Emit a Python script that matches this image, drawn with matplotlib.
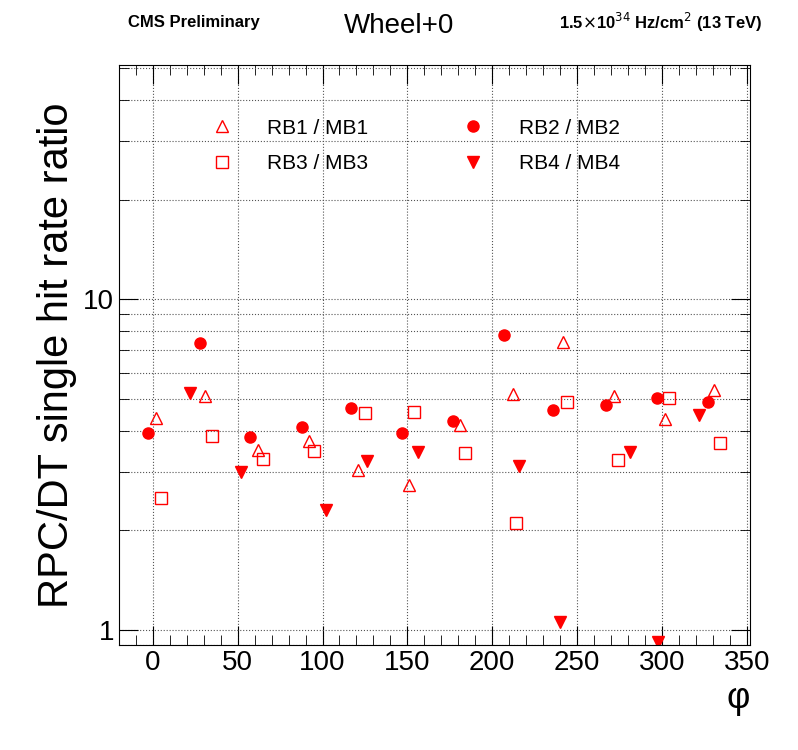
import numpy as np
import matplotlib.pyplot as plt
from matplotlib.ticker import FixedLocator, NullFormatter, MultipleLocator, LogLocator

plt.rcParams['font.family'] = ['Liberation Sans', 'DejaVu Sans']

# RB1 / MB1
phi_rb1 = [2, 31, 62, 92, 121, 151, 181, 212, 242, 272, 302, 331]
val_rb1 = [4.38, 5.1, 3.5, 3.73, 3.04, 2.74, 4.17, 5.18, 7.4, 5.1, 4.35, 5.33]
# RB2 / MB2
phi_rb2 = [-3, 28, 57, 88, 117, 147, 177, 207, 236, 267, 297, 327]
val_rb2 = [3.94, 7.35, 3.83, 4.11, 4.7, 3.94, 4.29, 7.77, 4.63, 4.8, 5.04, 4.9]
# RB3 / MB3
phi_rb3 = [5, 35, 65, 95, 125, 154, 184, 214, 244, 274, 304, 334]
val_rb3 = [2.5, 3.86, 3.29, 3.47, 4.54, 4.57, 3.43, 2.1, 4.9, 3.26, 5.04, 3.68]
# RB4 / MB4
phi_rb4 = [22, 52, 102, 126, 156, 216, 240, 281, 298, 322]
val_rb4 = [5.22, 3.0, 2.3, 3.24, 3.45, 3.13, 1.06, 3.45, 0.92, 4.47]

red = '#ff0000'
fig = plt.figure(figsize=(7.98, 7.5), dpi=100)
ax = fig.add_axes([0.149, 0.14, 0.791, 0.773])

h1, = ax.plot(phi_rb1, val_rb1, '^', ms=8, mfc='none', mec=red, mew=1.0, ls='none', label='RB1 / MB1')
h2, = ax.plot(phi_rb2, val_rb2, 'o', ms=8, color=red, ls='none', label='RB2 / MB2')
h3, = ax.plot(phi_rb3, val_rb3, 's', ms=8, mfc='none', mec=red, mew=1.0, ls='none', label='RB3 / MB3')
h4, = ax.plot(phi_rb4, val_rb4, 'v', ms=8, color=red, ls='none', label='RB4 / MB4')

ax.set_yscale('log')
ax.set_xlim(-20, 352)
ax.set_ylim(0.9, 51)
ax.xaxis.set_major_locator(MultipleLocator(50))
ax.xaxis.set_minor_locator(MultipleLocator(10))
ax.yaxis.set_major_locator(FixedLocator([1, 10]))
ax.yaxis.set_major_formatter(plt.FuncFormatter(lambda v, p: '%g' % v))
ax.yaxis.set_minor_locator(LogLocator(subs=np.arange(2, 10)))
ax.yaxis.set_minor_formatter(NullFormatter())
ax.tick_params(which='both', direction='in', top=True, right=True, labelsize=20)
ax.tick_params(which='major', length=14)
ax.tick_params(which='minor', length=7)
ax.grid(True, which='major', ls=':', color='#555555', lw=0.8)
ax.grid(True, which='minor', axis='y', ls=':', color='#555555', lw=0.8)

ax.set_ylabel('RPC/DT single hit rate ratio', fontsize=30)
ax.set_xlabel('φ', fontsize=26, loc='right')

# column-major order so the rows read RB1, RB2 / RB3, RB4
ax.legend([h1, h3, h2, h4], ['RB1 / MB1', 'RB3 / MB3', 'RB2 / MB2', 'RB4 / MB4'],
          loc='upper left', bbox_to_anchor=(0.1, 0.94), ncol=2, frameon=False,
          fontsize=15, columnspacing=4, handletextpad=1.2, labelspacing=0.8)

fig.text(0.16, 0.97, 'CMS Preliminary', fontsize=12, fontweight='bold', va='center')
fig.text(0.5, 0.965, 'Wheel+0', fontsize=20, ha='center', va='center')
fig.text(0.955, 0.97, r'1.5$\times$10$^{34}$ Hz/cm$^{2}$ (13 TeV)', fontsize=12,
         fontweight='bold', ha='right', va='center')

fig.savefig('out.png', dpi=100)
